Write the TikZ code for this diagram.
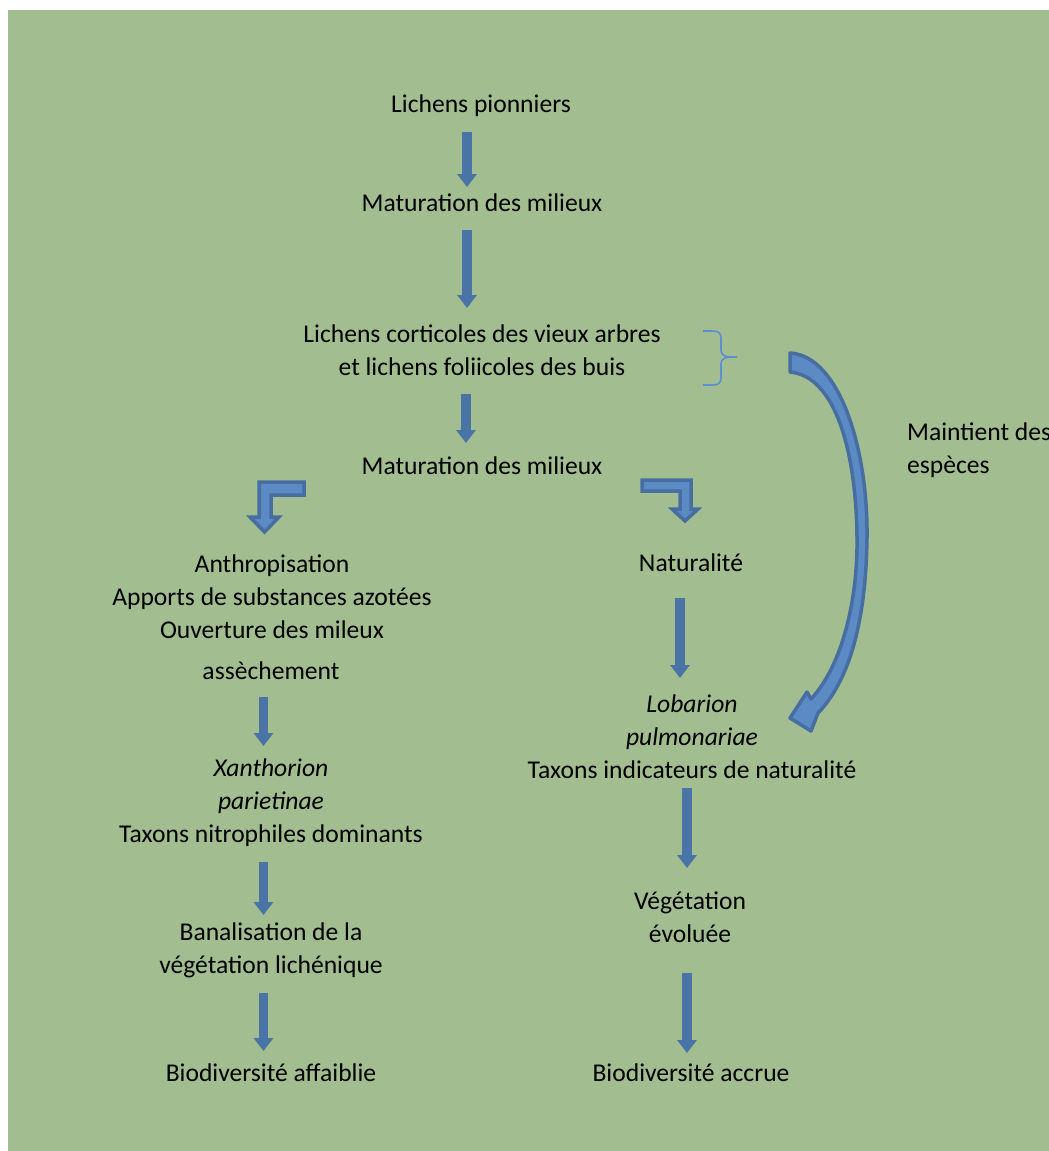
\documentclass[tikz,border=0pt]{standalone}
\usepackage{fontspec}
\setmainfont{Carlito}
\usetikzlibrary{arrows.meta}
\definecolor{bg}{HTML}{A2BD90}
\definecolor{arrowblue}{HTML}{4A73A6}
\definecolor{lightblue}{HTML}{5B8AC5}
\definecolor{edgeblue}{HTML}{476EA1}
\definecolor{bracecol}{HTML}{5B8FD2}
\begin{document}
\begin{tikzpicture}[x=1pt,y=-1pt,
  lbl/.style={font=\fontsize{25.6}{33}\selectfont, align=center, inner sep=0pt},
  blockarrow/.style={draw=arrowblue, line width=9.5pt, -{Triangle[width=19pt,length=13pt]}},
  bentarrow/.style={fill=lightblue, draw=edgeblue, line width=3.5pt, line join=miter},
  curvearrow/.style={fill=lightblue, draw=edgeblue, line width=3.5pt, line join=round},
  bracestyle/.style={draw=bracecol, line width=1.6pt}]
\useasboundingbox (0,0) rectangle (1049,1151);
\fill[bg] (8,10) rectangle (1049,1151);

% texts
\node[lbl] (lp) at (481,105.5) {Lichens pionniers};
\node[lbl] (mat1) at (482,203) {Maturation des milieux};
\node[lbl] (lc) at (482,350) {Lichens corticoles des vieux arbres\\et lichens foliicoles des buis};
\node[lbl] (mat2) at (482,466) {Maturation des milieux};
\node[lbl] (anth) at (272,597) {Anthropisation\\Apports de substances azotées\\Ouverture des mileux};
\node[lbl] (ass) at (271,671) {assèchement};
\node[lbl] (nat) at (691,563) {Naturalité};
\node[lbl] (xan) at (271,803) {\textit{Xanthorion}\\\textit{parietinae}\\Taxons nitrophiles dominants};
\node[lbl] (lob) at (692,737) {\textit{Lobarion}\\\textit{pulmonariae}\\Taxons indicateurs de naturalité};
\node[lbl] (ban) at (271,950) {Banalisation de la\\végétation lichénique};
\node[lbl] (baf) at (271,1073) {Biodiversité affaiblie};
\node[lbl] (veg) at (690,917) {Végétation\\évoluée};
\node[lbl] (bac) at (691,1073) {Biodiversité accrue};
\node[lbl, align=left, anchor=west] (mai) at (907,450) {Maintient des\\espèces};

% straight block arrows
\coordinate (a1s) at (467,132); \coordinate (a1e) at (467,187);
\coordinate (a2s) at (467,230); \coordinate (a2e) at (467,308);
\coordinate (a3s) at (466,394); \coordinate (a3e) at (466,443);
\coordinate (l1s) at (263.5,697); \coordinate (l1e) at (263.5,746);
\coordinate (l2s) at (263.5,862); \coordinate (l2e) at (263.5,915);
\coordinate (l3s) at (263.5,993); \coordinate (l3e) at (263.5,1051);
\coordinate (r1s) at (680,598); \coordinate (r1e) at (680,678);
\coordinate (r2s) at (687,788); \coordinate (r2e) at (687,868);
\coordinate (r3s) at (687,973); \coordinate (r3e) at (687,1053);
\draw[blockarrow] (a1s) -- (a1e);
\draw[blockarrow] (a2s) -- (a2e);
\draw[blockarrow] (a3s) -- (a3e);
\draw[blockarrow] (l1s) -- (l1e);
\draw[blockarrow] (l2s) -- (l2e);
\draw[blockarrow] (l3s) -- (l3e);
\draw[blockarrow] (r1s) -- (r1e);
\draw[blockarrow] (r2s) -- (r2e);
\draw[blockarrow] (r3s) -- (r3e);

% bent arrows
\draw[bentarrow] (304,482) -- (259,482) -- (259,517) -- (250,517) -- (264.5,532) -- (279,517) -- (271,517) -- (271,495) -- (304,495) -- cycle;
\draw[bentarrow] (642,480) -- (691,480) -- (691,509) -- (698,509) -- (685,521) -- (672,509) -- (680,509) -- (680,491) -- (642,491) -- cycle;

% brace
\draw[bracestyle] (703,331) -- (713,331) .. controls (718,331) and (721,333) .. (721,338) -- (721,350)
  .. controls (721,355) and (725,357) .. (731,357) -- (737,357);
\draw[bracestyle] (737,357) -- (731,357) .. controls (725,357) and (721,359) .. (721,364) -- (721,378)
  .. controls (721,383) and (718,385) .. (713,385) -- (703,385);

% curved arrow (maintien des especes)
\coordinate (ct) at (790,353);
\coordinate (ctip) at (790,718);
\draw[curvearrow] (ct) .. controls (840,356) and (868,450) .. (867,537)
  .. controls (866,625) and (848,682) .. (818,713) -- (811,731) -- (ctip) -- (807,692) -- (811,699)
  .. controls (842,666) and (858,600) .. (857,537)
  .. controls (856,450) and (835,376) .. (790,372) -- cycle;
\end{tikzpicture}
\end{document}
